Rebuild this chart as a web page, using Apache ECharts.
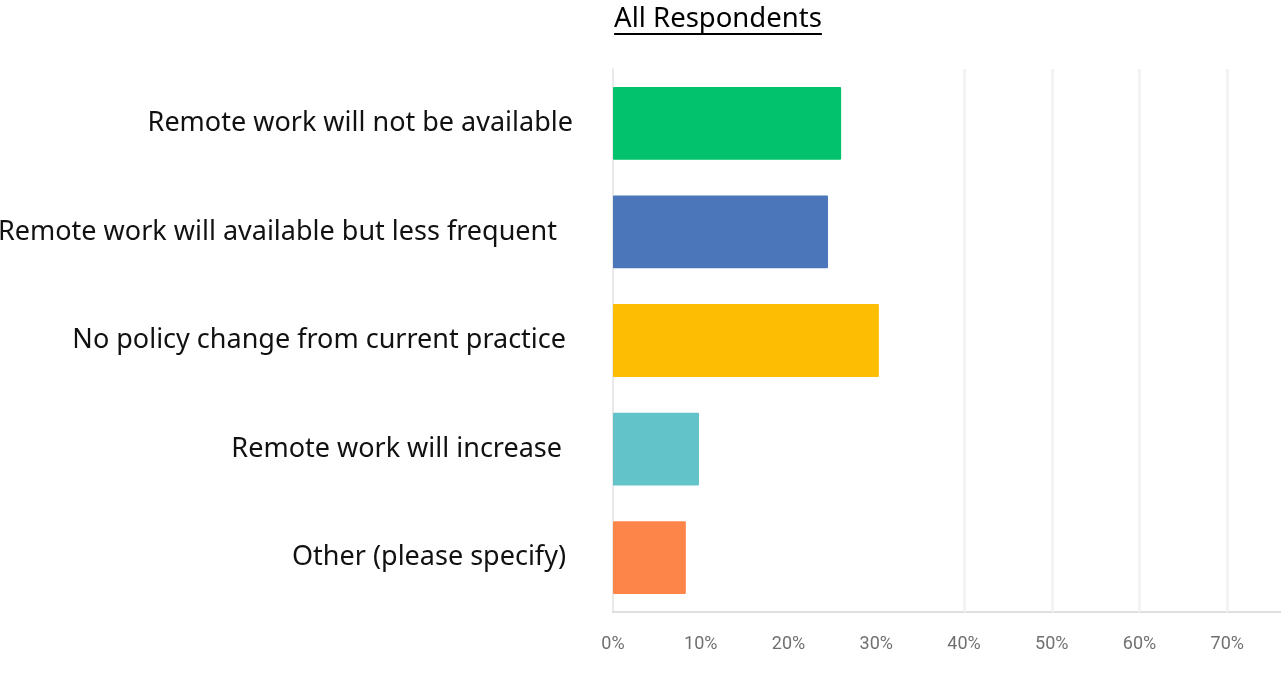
<!DOCTYPE html>
<html>
<head>
<meta charset="utf-8">
<script src="https://cdn.jsdelivr.net/npm/echarts@6/dist/echarts.min.js"></script>
<style>
  html, body { margin: 0; padding: 0; background: #ffffff; }
  #chart { width: 1281px; height: 698px; }
</style>
</head>
<body>
<div id="chart"></div>
<script>
// Survey answers, top to bottom
const titleText = 'All Respondents';
const categories = [
  'Remote work will not be available',
  'Remote work will available but less frequent',
  'No policy change from current practice',
  'Remote work will increase',
  'Other (please specify)'
];
// Share of respondents, percent
const values = [26.0, 24.5, 30.3, 9.8, 8.3];
const barColors = ['#02c26d', '#4b76ba', '#fcbd02', '#62c4c8', '#fe8549'];
// Faint vertical guides drawn on the right part of the plot
const guideValues = [40, 50, 60, 70];

// Extra right padding for some labels (trailing space in the original wording)
const labelPad = [0, 16, 7, 11, 7];
const labelFont = '"Noto Sans", "Open Sans", sans-serif';

const chart = echarts.init(document.getElementById('chart'), null, { renderer: 'canvas' });

// Measure the title so the underline spans exactly the text
const titleFontSize = 27.5;
const measureCtx = document.createElement('canvas').getContext('2d');
measureCtx.font = titleFontSize + 'px ' + labelFont;
const titleWidth = measureCtx.measureText(titleText).width;
const titleCenterX = 718;

chart.setOption({
  animation: false,
  backgroundColor: '#ffffff',
  // plot runs past the right edge; only 0–70% ticks stay visible
  grid: {
    left: 613, width: 702, top: 69, bottom: 86,
    containLabel: false, outerBoundsMode: 'none'
  },
  xAxis: {
    type: 'value',
    min: 0,
    max: 80,
    interval: 10,
    axisLine: { show: true, lineStyle: { color: '#d4d4d4', width: 1.5 } },
    axisTick: { show: false },
    splitLine: { show: false },
    axisLabel: {
      formatter: '{value}%',
      color: '#707070',
      fontSize: 18,
      fontFamily: 'Roboto, "Liberation Sans", sans-serif',
      margin: 23
    }
  },
  yAxis: {
    type: 'category',
    inverse: true,
    data: categories.map((c, i) => ({ value: c, textStyle: { padding: [0, labelPad[i], 0, 0] } })),
    axisLine: { show: true, lineStyle: { color: '#e2e2e2', width: 1.5 } },
    axisTick: { show: false },
    axisLabel: {
      color: '#111111',
      fontSize: 27,
      fontFamily: labelFont,
      margin: 40
    }
  },
  series: [{
    type: 'bar',
    barWidth: '67%',
    data: values.map((v, i) => ({ value: v, itemStyle: { color: barColors[i] } })),
    itemStyle: { borderRadius: 1 },
    markLine: {
      silent: true,
      symbol: ['none', 'none'],
      label: { show: false },
      lineStyle: { color: '#f1f1f1', width: 2.5, type: 'solid' },
      data: guideValues.map(v => ({ xAxis: v }))
    }
  }],
  graphic: [
    {
      type: 'text',
      x: titleCenterX,
      y: 19,
      style: {
        text: titleText,
        fill: '#000000',
        font: titleFontSize + 'px ' + labelFont,
        align: 'center',
        verticalAlign: 'middle'
      }
    },
    {
      type: 'rect',
      shape: { x: titleCenterX - titleWidth / 2, y: 33, width: titleWidth, height: 2 },
      style: { fill: '#000000' }
    }
  ]
});
</script>
</body>
</html>
